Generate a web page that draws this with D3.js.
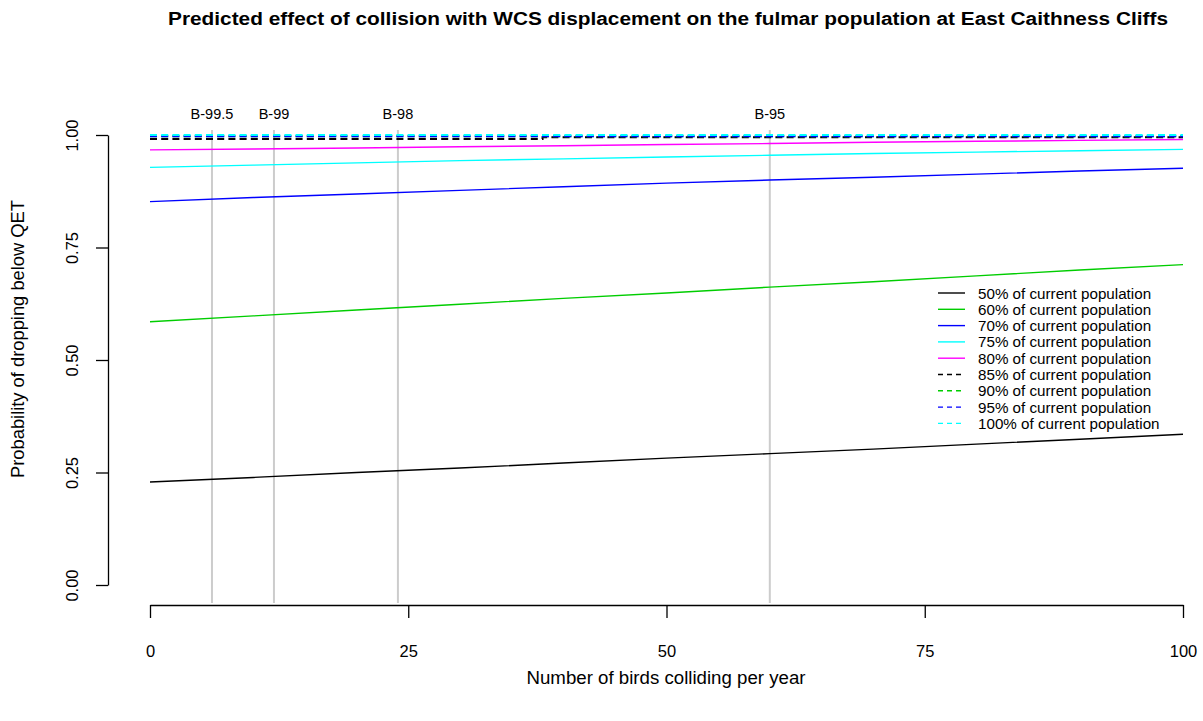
<!DOCTYPE html>
<html>
<head>
<meta charset="utf-8">
<script src="https://cdn.jsdelivr.net/npm/d3@7"></script>
<style>
  html, body { margin: 0; padding: 0; background: #fff; }
  svg text { font-family: "Liberation Sans", Arial, sans-serif; fill: #000; }
</style>
</head>
<body>
<svg id="chart" width="1203" height="721"></svg>
<script>
// Birds colliding per year (x positions of sampled values)
const birds = [0, 10, 20, 30, 40, 50, 60, 70, 80, 90, 100];

// Probability of dropping below the quasi-extinction threshold, per threshold
const pop50 = [0.229, 0.239, 0.250, 0.260, 0.271, 0.282, 0.292, 0.302, 0.313, 0.324, 0.335];
const pop60 = [0.585, 0.598, 0.611, 0.624, 0.637, 0.649, 0.662, 0.674, 0.687, 0.700, 0.712];
const pop70 = [0.852, 0.861, 0.869, 0.877, 0.885, 0.893, 0.900, 0.906, 0.913, 0.920, 0.926];
const pop75 = [0.928, 0.933, 0.938, 0.943, 0.947, 0.951, 0.955, 0.959, 0.962, 0.965, 0.968];
const pop80 = [0.967, 0.969, 0.971, 0.974, 0.976, 0.979, 0.981, 0.984, 0.986, 0.988, 0.990];
const pop85x = [0, 38, 100];
const pop85 = [0.991, 0.995, 0.995];
const pop90 = [0.997, 0.997, 0.997, 0.997, 0.997, 0.997, 0.997, 0.997, 0.997, 0.997, 0.997];
const pop95 = [0.997, 0.997, 0.997, 0.997, 0.997, 0.997, 0.997, 0.997, 0.997, 0.997, 0.997];
const pop100 = [1.000, 1.000, 1.000, 1.000, 1.000, 1.000, 1.000, 1.000, 1.000, 1.000, 1.000];

const seriesNames = ["50% of current population", "60% of current population", "70% of current population",
  "75% of current population", "80% of current population", "85% of current population",
  "90% of current population", "95% of current population", "100% of current population"];
const seriesColors = ["#000000", "#00cd00", "#0000ff", "#00ffff", "#ff00ff",
  "#000000", "#00cd00", "#0000ff", "#00ffff"];
const seriesDashed = [false, false, false, false, false, true, true, true, true];

// Reference collision levels
const refBirds = [6, 12, 24, 60];
const refLabels = ["B-99.5", "B-99", "B-98", "B-95"];

const xTicks = [0, 25, 50, 75, 100];
const xTickLabels = ["0", "25", "50", "75", "100"];
const yTicks = [0, 0.25, 0.5, 0.75, 1];
const yTickLabels = ["0.00", "0.25", "0.50", "0.75", "1.00"];

const titleText = "Predicted effect of collision with WCS displacement on the fulmar population at East Caithness Cliffs";
const xTitle = "Number of birds colliding per year";
const yTitle = "Probability of dropping below QET";

const svg = d3.select("#chart");
const x = d3.scaleLinear().domain([0, 100]).range([150, 1183]);
const y = d3.scaleLinear().domain([0, 1]).range([585, 135]);

// reference lines
svg.append("g").selectAll("line").data(refBirds).join("line")
  .attr("x1", d => x(d)).attr("x2", d => x(d))
  .attr("y1", y(1.011)).attr("y2", y(-0.04))
  .attr("stroke", "#cccccc").attr("stroke-width", 2);
svg.append("g").selectAll("text").data(refBirds).join("text")
  .attr("x", d => x(d)).attr("y", 119)
  .attr("text-anchor", "middle").style("font-size", "14.5px")
  .text((d, i) => refLabels[i]);

// series
const line = d3.line().x(d => x(d[0])).y(d => y(d[1]));
const stepLine = d3.line().x(d => x(d[0])).y(d => y(d[1])).curve(d3.curveStepAfter);
const seriesData = [
  birds.map((b, i) => [b, pop50[i]]),
  birds.map((b, i) => [b, pop60[i]]),
  birds.map((b, i) => [b, pop70[i]]),
  birds.map((b, i) => [b, pop75[i]]),
  birds.map((b, i) => [b, pop80[i]]),
  pop85x.map((b, i) => [b, pop85[i]]),
  birds.map((b, i) => [b, pop90[i]]),
  birds.map((b, i) => [b, pop95[i]]),
  birds.map((b, i) => [b, pop100[i]])
];
svg.append("g").selectAll("path").data(seriesData).join("path")
  .attr("d", (d, i) => i === 5 ? stepLine(d) : line(d))
  .attr("fill", "none")
  .attr("stroke", (d, i) => seriesColors[i])
  .attr("stroke-width", (d, i) => seriesDashed[i] ? 2 : 1.4)
  .attr("stroke-dasharray", (d, i) => seriesDashed[i] ? "7,4.2" : null);

// y axis
const yAxis = svg.append("g").attr("transform", "translate(108,0)")
  .call(d3.axisLeft(y).tickValues(yTicks).tickSize(12).tickSizeOuter(0)
    .tickFormat((d, i) => yTickLabels[i]));
yAxis.select(".domain").attr("stroke", "#000").attr("stroke-width", 1.3);
yAxis.selectAll(".tick line").attr("stroke", "#000").attr("stroke-width", 1.3);
yAxis.selectAll(".tick text")
  .attr("x", null).attr("dy", null)
  .attr("transform", "translate(-36,0) rotate(-90)")
  .attr("text-anchor", "middle").attr("dominant-baseline", "central")
  .style("font-size", "16.5px").style("font-family", "'Liberation Sans', Arial, sans-serif");

// x axis
const xAxis = svg.append("g").attr("transform", "translate(0,605)")
  .call(d3.axisBottom(x).tickValues(xTicks).tickSize(13).tickSizeOuter(0)
    .tickFormat((d, i) => xTickLabels[i]));
xAxis.select(".domain").attr("stroke", "#000").attr("stroke-width", 1.3);
xAxis.selectAll(".tick line").attr("stroke", "#000").attr("stroke-width", 1.3);
xAxis.selectAll(".tick text")
  .attr("y", 46).attr("dy", null).attr("dominant-baseline", "central")
  .style("font-size", "16.5px").style("font-family", "'Liberation Sans', Arial, sans-serif");

// titles
svg.append("text").attr("x", 668).attr("y", 25).attr("text-anchor", "middle")
  .attr("textLength", 1000).attr("lengthAdjust", "spacingAndGlyphs")
  .style("font-size", "18px").style("font-weight", "bold").text(titleText);
svg.append("text").attr("x", 666).attr("y", 684).attr("text-anchor", "middle")
  .attr("textLength", 279).attr("lengthAdjust", "spacingAndGlyphs")
  .style("font-size", "17.5px").text(xTitle);
svg.append("text").attr("transform", "translate(24,339) rotate(-90)").attr("text-anchor", "middle")
  .attr("textLength", 278).attr("lengthAdjust", "spacingAndGlyphs")
  .style("font-size", "17.5px").text(yTitle);

// legend
const legend = svg.append("g");
const rows = legend.selectAll("g").data(seriesNames).join("g")
  .attr("transform", (d, i) => `translate(0,${293 + i * 16.3})`);
rows.append("line").attr("x1", 938).attr("x2", 965).attr("y1", 0).attr("y2", 0)
  .attr("stroke", (d, i) => seriesColors[i]).attr("stroke-width", 1.4)
  .attr("stroke-dasharray", (d, i) => seriesDashed[i] ? "5,4" : null);
rows.append("text").attr("x", 978).attr("y", 0).attr("dominant-baseline", "central")
  .style("font-size", "15.2px").text(d => d);
</script>
</body>
</html>
